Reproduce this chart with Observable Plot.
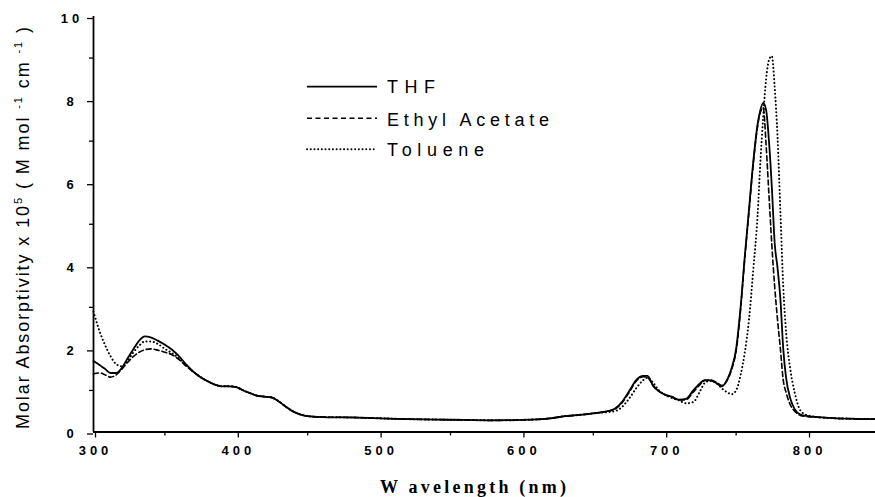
<!DOCTYPE html>
<html>
<head>
<meta charset="utf-8">
<script src="https://cdn.jsdelivr.net/npm/d3@7"></script>
<script src="https://cdn.jsdelivr.net/npm/@observablehq/plot@0.6"></script>
<style>
  body { margin: 0; background: #fff; }
  #chart { position: relative; width: 875px; height: 497px; overflow: hidden; }
</style>
</head>
<body>
<div id="chart"></div>
<script>
// ---- data ----
const wavelengths = [300,304,308,312,316,320,324,328,332,336,340,345,350,355,360,365,370,375,380,385,390,395,400,405,410,415,420,425,430,435,440,445,450,460,480,500,520,540,560,580,600,620,630,640,650,660,665,670,675,680,685,688,692,696,700,705,710,715,720,725,728,732,736,740,744,747,750,753,756,759,762,765,767,769,771,773,775,777,779,781,783,785,788,791,795,800,810,820,830,840,848];

const thf = [1.71,1.62,1.52,1.42,1.42,1.55,1.78,2.0,2.2,2.3,2.28,2.2,2.1,1.98,1.82,1.62,1.45,1.32,1.22,1.14,1.1,1.1,1.08,1.0,0.93,0.87,0.85,0.83,0.73,0.6,0.49,0.42,0.38,0.36,0.35,0.33,0.31,0.3,0.29,0.28,0.29,0.33,0.38,0.41,0.45,0.5,0.56,0.72,0.98,1.25,1.35,1.35,1.1,0.98,0.9,0.85,0.78,0.8,1.0,1.18,1.25,1.24,1.18,1.1,1.28,1.55,2.0,2.95,4.2,5.35,6.5,7.4,7.75,7.92,7.75,7.0,5.9,4.55,3.95,3.2,2.0,1.3,0.8,0.55,0.42,0.38,0.35,0.33,0.32,0.31,0.31];

const ethylAcetate = [1.4,1.42,1.38,1.32,1.38,1.52,1.68,1.82,1.92,1.98,2.0,1.97,1.92,1.86,1.74,1.58,1.44,1.32,1.22,1.14,1.1,1.1,1.08,1.0,0.93,0.87,0.85,0.83,0.73,0.6,0.49,0.42,0.38,0.36,0.35,0.33,0.31,0.3,0.29,0.28,0.29,0.33,0.38,0.41,0.45,0.5,0.55,0.7,0.95,1.22,1.33,1.31,1.12,0.98,0.9,0.84,0.77,0.78,0.96,1.15,1.24,1.25,1.2,1.12,1.26,1.52,1.95,2.9,4.15,5.3,6.45,7.35,7.7,7.8,6.9,5.7,4.5,3.5,2.7,2.0,1.25,0.95,0.65,0.5,0.4,0.37,0.35,0.33,0.32,0.31,0.31];

const toluene = [2.9,2.45,2.1,1.82,1.63,1.58,1.72,1.92,2.08,2.18,2.18,2.12,2.0,1.9,1.77,1.6,1.45,1.32,1.22,1.14,1.1,1.1,1.08,1.0,0.93,0.87,0.85,0.83,0.73,0.6,0.49,0.42,0.38,0.36,0.35,0.33,0.31,0.3,0.29,0.28,0.29,0.33,0.38,0.41,0.45,0.48,0.5,0.6,0.8,1.05,1.25,1.31,1.18,1.0,0.9,0.82,0.76,0.69,0.72,1.0,1.18,1.23,1.18,1.05,0.95,0.91,1.0,1.35,1.9,2.7,3.9,5.2,6.5,7.6,8.5,8.95,9.05,8.3,7.1,5.3,3.5,2.4,1.5,0.95,0.52,0.4,0.35,0.33,0.32,0.31,0.31];

const seriesNames = ["THF", "Ethyl Acetate", "Toluene"];
const majorX = [300, 400, 500, 600, 700, 800];
const minorX = [350, 450, 550, 650, 750, 850];
const majorY = [0, 2, 4, 6, 8, 10];
const minorY = [1, 3, 5, 7, 9];

// ---- build tables ----
const toRows = (vals) => wavelengths.map((w, i) => ({ w, v: vals[i] }));
const rowsTHF = toRows(thf);
const rowsEA = toRows(ethylAcetate);
const rowsTol = toRows(toluene);

const sans = "Liberation Sans, Arial, Helvetica, sans-serif";
const serif = "Liberation Serif, Times New Roman, serif";

const plot = Plot.plot({
  width: 875,
  height: 497,
  marginLeft: 93,
  marginRight: 0,
  marginTop: 16,
  marginBottom: 65.5,
  style: { background: "#fff", color: "#000", fontFamily: sans },
  x: { domain: [300, 847.6] },
  y: { domain: [0, 10] },
  marks: [
    Plot.axisX({ ticks: majorX, tickSize: 6, tickPadding: 8, tickFormat: d => String(d), dx: 2, label: null, strokeWidth: 1.3 }),
    Plot.axisX({ ticks: minorX, tickSize: 4, tickFormat: () => "", label: null, strokeWidth: 1.3 }),
    Plot.axisY({ ticks: majorY, tickSize: 6, tickPadding: 15.5, textAnchor: "middle", tickFormat: d => String(d), dy: 2, label: null, strokeWidth: 1.3 }),
    Plot.axisY({ ticks: minorY, tickSize: 4, tickFormat: () => "", label: null, strokeWidth: 1.3 }),
    Plot.ruleX([300], { stroke: "#000", strokeWidth: 1.8 }),
    Plot.ruleY([0], { stroke: "#000", strokeWidth: 1.8 }),
    Plot.line(rowsTHF, { x: "w", y: "v", stroke: "#000", strokeWidth: 1.8, curve: "monotone-x" }),
    Plot.line(rowsEA, { x: "w", y: "v", stroke: "#000", strokeWidth: 1.6, strokeDasharray: "5,3", curve: "monotone-x" }),
    Plot.line(rowsTol, { x: "w", y: "v", stroke: "#000", strokeWidth: 2, strokeDasharray: "0.1,3.6", strokeLinecap: "round", curve: "monotone-x" })
  ]
});

document.getElementById("chart").appendChild(plot);

// ---- style the tick labels (numbers) ----
const svg = d3.select(plot);
svg.selectAll("text").each(function () {
  if (/^\d+$/.test(this.textContent.trim())) {
    d3.select(this)
      .style("font-size", "13px")
      .style("font-weight", "bold")
      .style("font-family", sans)
      .style("letter-spacing", "4px");
  }
});

// y-axis label
const yl = svg.append("text")
  .attr("transform", "translate(29,228) rotate(-90)")
  .attr("text-anchor", "middle")
  .attr("font-family", sans)
  .attr("font-size", 18)
  .attr("fill", "#000")
  .attr("textLength", 402)
  .attr("lengthAdjust", "spacing");
yl.append("tspan").text("Molar Absorptivity x 10");
yl.append("tspan").attr("dy", -7).attr("font-size", 11).text("5");
yl.append("tspan").attr("dy", 7).text(" ( M mol ");
yl.append("tspan").attr("dy", -7).attr("font-size", 11).text("-1");
yl.append("tspan").attr("dy", 7).text(" cm ");
yl.append("tspan").attr("dy", -7).attr("font-size", 11).text("-1");
yl.append("tspan").attr("dy", 7).text(" )");

// x-axis label
svg.append("text")
  .attr("x", 380).attr("y", 493)
  .attr("text-anchor", "start")
  .attr("font-family", serif)
  .attr("font-size", 18)
  .attr("font-weight", "bold")
  .attr("fill", "#000")
  .attr("textLength", 186)
  .attr("lengthAdjust", "spacing")
  .text("W avelength (nm)");

// legend
const legendStyles = [
  { dash: null, width: 1.7, cap: "butt" },
  { dash: "5,3.5", width: 1.5, cap: "butt" },
  { dash: "0.1,3.6", width: 1.9, cap: "round" }
];
const legendLineY = [86.7, 118.3, 149.3];
const legendTextY = [93, 126, 156];
const legendTextLen = [48, 162, 97];
seriesNames.forEach((name, i) => {
  const ln = svg.append("line")
    .attr("x1", 307).attr("x2", 377)
    .attr("y1", legendLineY[i]).attr("y2", legendLineY[i])
    .attr("stroke", "#000")
    .attr("stroke-width", legendStyles[i].width)
    .attr("stroke-linecap", legendStyles[i].cap);
  if (legendStyles[i].dash) ln.attr("stroke-dasharray", legendStyles[i].dash);
  svg.append("text")
    .attr("x", 387).attr("y", legendTextY[i])
    .attr("text-anchor", "start")
    .attr("font-family", sans)
    .attr("font-size", 18)
    .attr("fill", "#000")
    .attr("textLength", legendTextLen[i])
    .attr("lengthAdjust", "spacing")
    .text(name);
});
</script>
</body>
</html>
